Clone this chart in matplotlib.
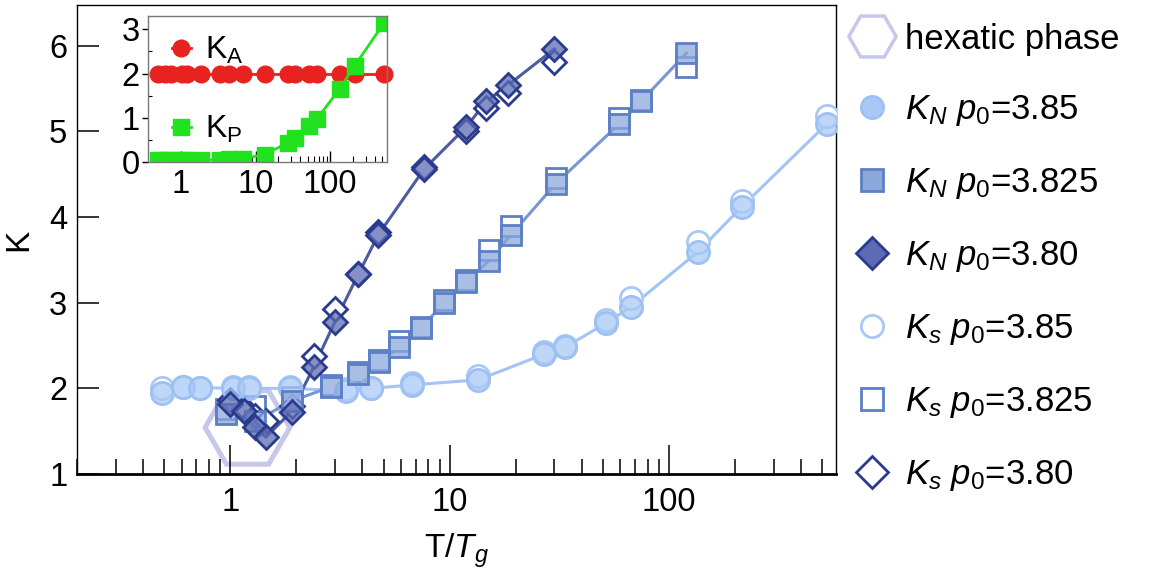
import numpy as np
import matplotlib
matplotlib.use("Agg")
import matplotlib.pyplot as plt
from matplotlib.lines import Line2D
from matplotlib.ticker import LogLocator, NullFormatter, FixedLocator

plt.rcParams['font.family'] = ['Liberation Sans', 'DejaVu Sans']
plt.rcParams['mathtext.fontset'] = 'custom'
plt.rcParams['mathtext.rm'] = 'Liberation Sans'
plt.rcParams['mathtext.it'] = 'Liberation Sans:italic'
plt.rcParams['mathtext.bf'] = 'Liberation Sans:bold'

# p0 = 3.85 (circles)
t_385 = [0.49, 0.61, 0.73, 1.03, 1.22, 1.88, 3.37, 4.38, 6.74, 13.5, 27, 33.6, 51.5, 67, 135, 215, 526]
kn_385 = [1.95, 2.02, 2.01, 2.00, 2.00, 2.00, 1.97, 2.00, 2.04, 2.10, 2.40, 2.48, 2.76, 2.95, 3.59, 4.12, 5.09]
ks_385 = [2.00, 2.02, 2.01, 2.02, 2.02, 2.02, 1.99, 2.01, 2.06, 2.14, 2.42, 2.50, 2.80, 3.05, 3.71, 4.19, 5.18]

# p0 = 3.825 (squares)
t_3825 = [0.96, 1.3, 1.9, 2.88, 3.83, 4.77, 5.9, 7.4, 9.4, 11.9, 15.1, 19, 30.5, 59, 74.6, 120]
kn_3825 = [1.70, 1.62, 1.85, 2.02, 2.17, 2.31, 2.48, 2.70, 3.00, 3.24, 3.49, 3.79, 4.39, 5.08, 5.35, 5.91]
ks_3825 = [1.76, 1.80, 1.90, 2.04, 2.19, 2.33, 2.55, 2.72, 3.03, 3.26, 3.61, 3.90, 4.46, 5.15, 5.36, 5.75]

# p0 = 3.80 (diamonds)
t_380 = [1.0, 1.15, 1.3, 1.45, 1.9, 2.4, 3.0, 3.83, 4.72, 7.65, 11.9, 14.7, 18.5, 30]
kn_380 = [1.82, 1.74, 1.55, 1.43, 1.73, 2.25, 2.78, 3.33, 3.79, 4.56, 5.05, 5.35, 5.54, 5.96]
ks_380 = [1.86, 1.77, 1.68, 1.62, 1.79, 2.38, 2.93, 3.34, 3.82, 4.58, 5.00, 5.27, 5.45, 5.81]

# inset: K_A and K_P for p0 = 3.85
ka_385 = [2.0] * 17
kp_385 = [0.05, 0.05, 0.05, 0.05, 0.05, 0.05, 0.05, 0.06, 0.08, 0.17, 0.44, 0.55, 0.82, 0.98, 1.66, 2.18, 3.14]

hex_center = (1.195, 1.55)

fig = plt.figure(figsize=(11.64, 5.81), dpi=100)
ax = fig.add_axes([0.0662, 0.184, 0.652, 0.807])

ax.plot([hex_center[0]], [hex_center[1]], marker='H', ms=61, mfc='none',
        mec='#c6c7eb', mew=3.6, ls='none', zorder=1)

series = [
    (t_385, kn_385, ks_385, 'o', 16, '#a4c4f3', (0.66, 0.79, 0.96, 0.75), '#9ec0f2', '#a9c8f4'),
    (t_3825, kn_3825, ks_3825, 's', 14, '#7896d4', (0.55, 0.66, 0.86, 0.75), '#5c7fc6', '#5c7fc6'),
    (t_380, kn_380, ks_380, 'D', 12.5, '#4d5c9e', (0.36, 0.42, 0.70, 0.75), '#2a3a8f', '#2a3a8f'),
]
handles = [Line2D([], [], marker='H', ms=34, mfc='none', mec='#c6c7eb', mew=2.5, ls='none')]
labels = ['hexatic phase']
filled_h, open_h = [], []
for t, kn, ks, mk, ms, lc, fc, ec, oc in series:
    ax.plot(t, kn, color=lc, lw=2.2, zorder=2)
    ax.plot(t, ks, ls='none', marker=mk, ms=ms, mfc='white', mec=oc, mew=2.0, zorder=3)
    ax.plot(t, kn, ls='none', marker=mk, ms=ms, mfc=fc, mec=ec, mew=2.0, zorder=4)
    lms = 16 if mk != 'D' else 16.5
    filled_h.append(Line2D([], [], ls='none', marker=mk, ms=lms, mfc=fc[:3], mec=ec, mew=2.0))
    open_h.append(Line2D([], [], ls='none', marker=mk, ms=lms, mfc='white', mec=oc, mew=2.0))

handles += filled_h + open_h
labels += [r'$K_N$ $p_0$=3.85', r'$K_N$ $p_0$=3.825', r'$K_N$ $p_0$=3.80',
           r'$K_s$ $p_0$=3.85', r'$K_s$ $p_0$=3.825', r'$K_s$ $p_0$=3.80']
fig.legend(handles, labels, loc='upper left', bbox_to_anchor=(0.7165, 0.985),
           frameon=False, fontsize=25, handlelength=1.4, handletextpad=0.24,
           labelspacing=1.09, borderaxespad=0)

ax.set_xscale('log')
ax.set_xlim(0.2, 577)
ax.set_ylim(1, 6.47)
ax.set_yticks([1, 2, 3, 4, 5, 6])
ax.xaxis.set_major_locator(FixedLocator([1, 10, 100]))
ax.set_xticklabels(['1', '10', '100'])
ax.xaxis.set_minor_locator(LogLocator(base=10, subs=np.arange(2, 10)))
ax.xaxis.set_minor_formatter(NullFormatter())
ax.tick_params(axis='x', which='major', direction='in', length=21, width=1.1,
               labelsize=23.5, pad=9, top=False)
ax.tick_params(axis='x', which='minor', direction='in', length=10.5, width=1.1, top=False)
ax.tick_params(axis='y', which='major', direction='in', length=16, width=1.1,
               labelsize=23.5, pad=7, right=False)
for s in ['top', 'left', 'right']:
    ax.spines[s].set_linewidth(1.0)
ax.spines['bottom'].set_linewidth(2.0)
ax.set_xlabel(r'T/$T_g$', fontsize=24, labelpad=10)
ax.set_ylabel('K', fontsize=24)
ax.yaxis.set_label_coords(-0.056, 0.5)

# inset
ax_in = fig.add_axes([0.127, 0.721, 0.2055, 0.2515])
ax_in.plot(t_385, ka_385, color='#e8231f', lw=2, marker='o', ms=12,
           mfc='#e8231f', mec='#e8231f', label=r'$\mathregular{K_A}$', clip_on=False)
ax_in.plot(t_385, kp_385, color='#22e11f', lw=2, marker='s', ms=11.5,
           mfc='#22e11f', mec='#22e11f', label=r'$\mathregular{K_P}$')
ax_in.set_xscale('log')
ax_in.set_xlim(0.36, 580)
ax_in.set_ylim(0, 3.3)
ax_in.set_yticks([0, 1, 2, 3])
ax_in.set_yticks([0.5, 1.5, 2.5], minor=True)
ax_in.xaxis.set_major_locator(FixedLocator([1, 10, 100]))
ax_in.set_xticklabels(['1', '10', '100'])
ax_in.xaxis.set_minor_locator(LogLocator(base=10, subs=np.arange(2, 10)))
ax_in.xaxis.set_minor_formatter(NullFormatter())
ax_in.tick_params(axis='x', which='major', direction='in', length=8, width=1, labelsize=23.5, pad=5)
ax_in.tick_params(axis='x', which='minor', direction='in', length=4, width=0.8)
ax_in.tick_params(axis='y', which='major', direction='out', length=4, width=1, labelsize=23.5, pad=2)
ax_in.tick_params(axis='y', which='minor', direction='in', length=3, width=0.8)
for s in ax_in.spines.values():
    s.set_color('#777777')
    s.set_linewidth(1.0)
ax_in.legend(loc='upper left', frameon=False, fontsize=23, handlelength=0.6,
             handletextpad=0.45, labelspacing=1.5, borderaxespad=0.2,
             bbox_to_anchor=(0.02, 1.0))

fig.savefig('out.png', dpi=100)
